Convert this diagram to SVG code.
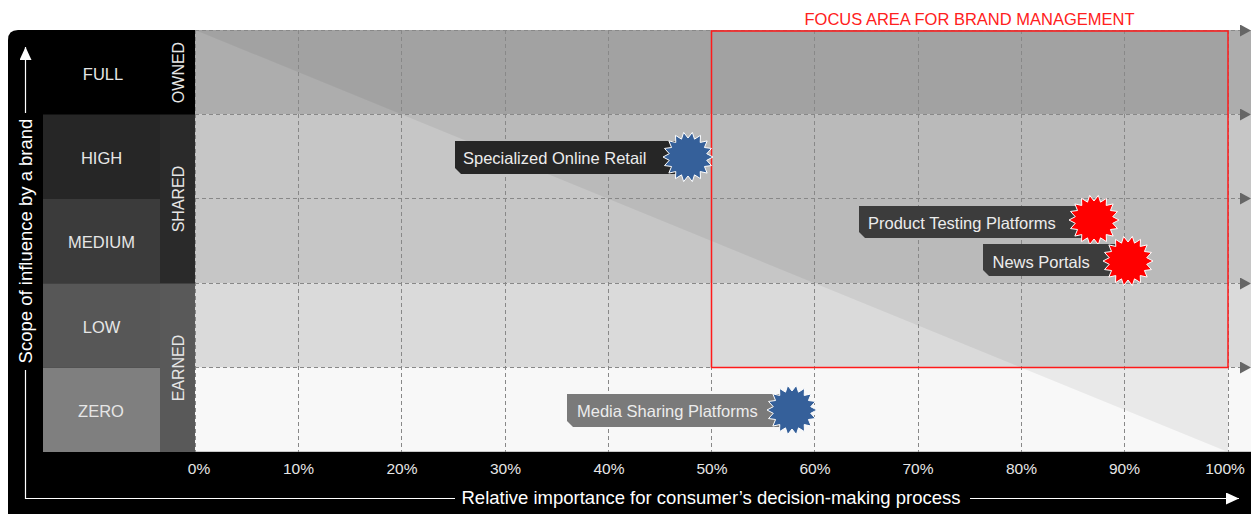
<svg xmlns="http://www.w3.org/2000/svg" width="1251" height="514" viewBox="0 0 1251 514">
<style>
.t{font-family:"Liberation Sans",Arial,sans-serif}
.row{font-size:16.5px;fill:#e6e6e6;text-anchor:middle}
.col{font-size:16px;fill:#e6e6e6;text-anchor:middle}
.pct{font-size:15.5px;fill:#e6e6e6;text-anchor:middle}
.ax{font-size:18.5px;fill:#ffffff;text-anchor:middle}
.lbl{font-size:16.5px;fill:#ececec}
.grid{stroke:#888888;stroke-width:1;stroke-dasharray:4 3;fill:none}
.axis{stroke:#ffffff;stroke-width:1.2;fill:none}
.star{stroke:#ffffff;stroke-width:1}
.blue{fill:#35609a}
.red{fill:#ff0000}
</style>
<defs>
<polygon id="star" points="25,0 18.71,3.3 23.49,8.55 16.45,9.5 19.15,16.07 12.21,14.55 12.5,21.65 6.5,17.85 4.34,24.62 0,19 -4.34,24.62 -6.5,17.85 -12.5,21.65 -12.21,14.55 -19.15,16.07 -16.45,9.5 -23.49,8.55 -18.71,3.3 -25,0 -18.71,-3.3 -23.49,-8.55 -16.45,-9.5 -19.15,-16.07 -12.21,-14.55 -12.5,-21.65 -6.5,-17.85 -4.34,-24.62 0,-19 4.34,-24.62 6.5,-17.85 12.5,-21.65 12.21,-14.55 19.15,-16.07 16.45,-9.5 23.49,-8.55 18.71,-3.3"/>
<marker id="ga" viewBox="0 0 11 12" refX="11" refY="6" markerWidth="11" markerHeight="12" markerUnits="userSpaceOnUse" orient="auto"><path d="M0,0 L11,6 L0,12 Z" fill="#666666"/></marker>
<marker id="wa" viewBox="0 0 13 12" refX="13" refY="6" markerWidth="13" markerHeight="12" markerUnits="userSpaceOnUse" orient="auto"><path d="M0,0 L13,6 L0,12 Z" fill="#ffffff"/></marker>
</defs>

<g id="background">
<rect x="195" y="30" width="1056" height="84.5" fill="#adadad"/>
<rect x="195" y="114.5" width="1056" height="168.8" fill="#c6c6c6"/>
<rect x="195" y="283.3" width="1056" height="84.3" fill="#dadada"/>
<rect x="195" y="367.6" width="1056" height="84.4" fill="#f8f8f8"/>
<polygon points="195,30 1228,30 1228,452" fill="#000000" fill-opacity="0.06"/>
<line x1="195" y1="451.5" x2="1251" y2="451.5" stroke="#c8c8c8" stroke-width="1"/>
</g>

<g id="panel">
<path d="M18,30 H195 V514 H8 V40 Q8,30 18,30 Z" fill="#000000"/>
<rect x="8" y="452" width="1243" height="62" fill="#000000"/>
<rect x="43" y="114.5" width="117" height="84.5" fill="#262626"/>
<rect x="43" y="199" width="117" height="84.3" fill="#3b3b3b"/>
<rect x="43" y="283.3" width="117" height="84.3" fill="#575757"/>
<rect x="43" y="367.6" width="117" height="84.4" fill="#7f7f7f"/>
<rect x="160" y="114.5" width="35" height="168.8" fill="#2a2a2a"/>
<rect x="160" y="283.3" width="35" height="168.7" fill="#595959"/>
</g>

<g id="connectors">
<g class="grid">
<line x1="195.5" y1="30" x2="195.5" y2="452"/>
<line x1="298.5" y1="30" x2="298.5" y2="452"/>
<line x1="401.5" y1="30" x2="401.5" y2="452"/>
<line x1="505.5" y1="30" x2="505.5" y2="452"/>
<line x1="608.5" y1="30" x2="608.5" y2="452"/>
<line x1="711.5" y1="30" x2="711.5" y2="452"/>
<line x1="814.5" y1="30" x2="814.5" y2="452"/>
<line x1="918.5" y1="30" x2="918.5" y2="452"/>
<line x1="1021.5" y1="30" x2="1021.5" y2="452"/>
<line x1="1124.5" y1="30" x2="1124.5" y2="452"/>
<line x1="1228.5" y1="30" x2="1228.5" y2="452"/>
<line x1="195" y1="30.5" x2="1251" y2="30.5" marker-end="url(#ga)"/>
<line x1="195" y1="114.5" x2="1251" y2="114.5" marker-end="url(#ga)"/>
<line x1="195" y1="198.5" x2="1251" y2="198.5" marker-end="url(#ga)"/>
<line x1="195" y1="283.5" x2="1251" y2="283.5" marker-end="url(#ga)"/>
<line x1="195" y1="367.5" x2="1251" y2="367.5" marker-end="url(#ga)"/>
</g>
<path class="axis" d="M25.5,113 V47" marker-end="url(#wa)"/>
<path class="axis" d="M25.5,370 V498.5 H455"/>
<path class="axis" d="M970,498.5 H1239" marker-end="url(#wa)"/>
</g>

<g id="focus-area">
<rect x="711.5" y="31" width="516.5" height="336.5" fill="none" stroke="#ff1a1a" stroke-width="1.5"/>
<text class="t" x="969.5" y="25" font-size="16.5" fill="#ff2020" text-anchor="middle">FOCUS AREA FOR BRAND MANAGEMENT</text>
</g>

<g id="row-labels" class="t row">
<text x="103" y="80">FULL</text>
<text x="101.5" y="164">HIGH</text>
<text x="101.5" y="248">MEDIUM</text>
<text x="101.5" y="333">LOW</text>
<text x="101" y="417">ZERO</text>
</g>

<g id="col-labels" class="t col">
<text transform="translate(183.5,72.5) rotate(-90)">OWNED</text>
<text transform="translate(183.5,199) rotate(-90)">SHARED</text>
<text transform="translate(183.5,368) rotate(-90)">EARNED</text>
</g>

<g id="x-ticks" class="t pct">
<text x="199" y="474">0%</text>
<text x="298.5" y="474">10%</text>
<text x="402" y="474">20%</text>
<text x="505.5" y="474">30%</text>
<text x="609" y="474">40%</text>
<text x="712" y="474">50%</text>
<text x="815" y="474">60%</text>
<text x="918" y="474">70%</text>
<text x="1021.5" y="474">80%</text>
<text x="1124.5" y="474">90%</text>
<text x="1225" y="474">100%</text>
</g>

<g id="axis-titles" class="t ax">
<text transform="translate(31.5,241) rotate(-90)">Scope of influence by a brand</text>
<text x="711" y="504">Relative importance for consumer’s decision-making process</text>
</g>

<g id="node-specialized-online-retail">
<polygon points="455,141 690,141 690,174 461,174 455,168" fill="#262626"/>
<text class="t lbl" x="463" y="163.5">Specialized Online Retail</text>
<use href="#star" x="688" y="157" class="star blue"/>
</g>

<g id="node-media-sharing-platforms">
<polygon points="567,394 792,394 792,427 573,427 567,421" fill="#7a7a7a"/>
<text class="t lbl" x="577" y="417">Media Sharing Platforms</text>
<use href="#star" x="792" y="410" class="star blue"/>
</g>

<g id="node-product-testing-platforms">
<polygon points="859,206 1093,206 1093,238 865,238 859,232" fill="#3c3c3c"/>
<text class="t lbl" x="868" y="229">Product Testing Platforms</text>
<use href="#star" x="1094" y="220" class="star red"/>
</g>

<g id="node-news-portals">
<polygon points="983,244 1127,244 1127,276 989,276 983,270" fill="#3c3c3c"/>
<text class="t lbl" x="992.5" y="267.5">News Portals</text>
<use href="#star" x="1128" y="261" class="star red"/>
</g>
</svg>
